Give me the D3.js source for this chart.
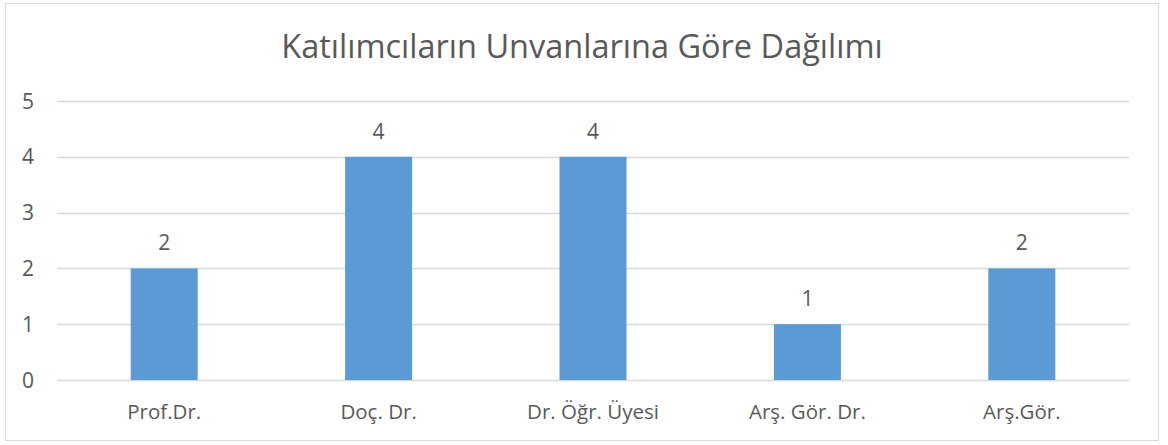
<!DOCTYPE html>
<html>
<head>
<meta charset="utf-8">
<script src="https://cdn.jsdelivr.net/npm/d3@7"></script>
<style>
  body { margin: 0; background: #fff; }
  text { font-family: 'Open Sans', sans-serif; fill: #595959; }
</style>
</head>
<body>
<svg id="grafico"></svg>
<script>
var categorias = ['Prof.Dr.', 'Doç. Dr.', 'Dr. Öğr. Üyesi', 'Arş. Gör. Dr.', 'Arş.Gör.'];
var valores = [2, 4, 4, 1, 2];
var ticksY = [0, 1, 2, 3, 4, 5];
var titulo = 'Katılımcıların Unvanlarına Göre Dağılımı';

var dados = categorias.map((c, i) => ({chave: c, valor: valores[i]}));

var largura = 1168, altura = 445;
var svg = d3.select('#grafico')
            .attr('width', largura)
            .attr('height', altura);

// moldura do gráfico
svg.append('rect')
   .attr('x', 5.5).attr('y', 3.5)
   .attr('width', 1153).attr('height', 437)
   .attr('fill', '#fff')
   .attr('stroke', '#d9d9d9');

var margem = {esquerda: 57, direita: 39, superior: 101, inferior: 65};
var larguraPlotagem = largura - margem.esquerda - margem.direita;
var alturaPlotagem = altura - margem.superior - margem.inferior;

var plotagem = svg.append('g')
                  .attr('transform', 'translate(' + margem.esquerda + ',' + margem.superior + ')');

var x = d3.scaleBand()
          .domain(categorias)
          .range([0, larguraPlotagem])
          .paddingInner(0.6875)
          .paddingOuter(0.34375);
var y = d3.scaleLinear()
          .domain([0, d3.max(ticksY)])
          .range([alturaPlotagem, 0]);

// linhas de grade
plotagem.selectAll('.grade')
  .data(ticksY)
  .enter()
    .append('line')
    .attr('x1', 0)
    .attr('x2', larguraPlotagem)
    .attr('y1', d => Math.round(y(d)) + 0.5)
    .attr('y2', d => Math.round(y(d)) + 0.5)
    .attr('stroke', '#d9d9d9')
    .attr('stroke-width', 1.5);

// rótulos do eixo Y
plotagem.selectAll('.tickY')
  .data(ticksY)
  .enter()
    .append('text')
    .attr('x', -23)
    .attr('y', d => y(d))
    .attr('dy', '0.36em')
    .style('text-anchor', 'end')
    .style('font-size', '21px')
    .text(d => d);

plotagem.selectAll('.barra')
  .data(dados)
  .enter()
    .append('rect')
    .attr('x', d => x(d.chave))
    .attr('y', d => y(d.valor))
    .attr('width', x.bandwidth())
    .attr('height', d => alturaPlotagem - y(d.valor))
    .attr('fill', '#5b9bd5');

plotagem.selectAll('.rotulo')
  .data(dados)
  .enter()
    .append('text')
    .text(d => d.valor)
    .attr('x', d => x(d.chave) + x.bandwidth() / 2)
    .attr('y', d => y(d.valor))
    .attr('dy', -18)
    .style('text-anchor', 'middle')
    .style('font-size', '21px');

// rótulos do eixo X
plotagem.selectAll('.tickX')
  .data(categorias)
  .enter()
    .append('text')
    .attr('x', d => x(d) + x.bandwidth() / 2)
    .attr('y', alturaPlotagem + 39)
    .style('text-anchor', 'middle')
    .style('font-size', '20.5px')
    .text(d => d);

svg.append('text')
   .attr('x', 582)
   .attr('y', 58)
   .style('text-anchor', 'middle')
   .style('font-size', '32.5px')
   .text(titulo);
</script>
</body>
</html>
